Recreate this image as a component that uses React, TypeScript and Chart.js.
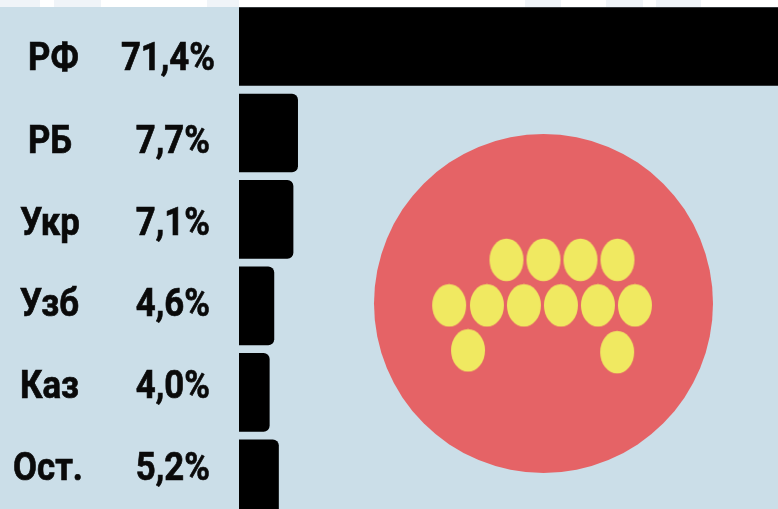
import React, { useEffect, useRef } from "react";
import { Chart, registerables } from "chart.js";

Chart.register(...registerables);

const categories = ["РФ", "РБ", "Укр", "Узб", "Каз", "Ост."];
const shares = [71.4, 7.7, 7.1, 4.6, 4.0, 5.2];
const shareLabels = ["71,4%", "7,7%", "7,1%", "4,6%", "4,0%", "5,2%"];
const labelRowCentres = [60, 143, 225, 306, 388, 470];
const nameCentres = [53.5, 50, 50, 49.5, 49.5, 48];
const coinX = [-1, 0, 1, 2, -2.55, -1.53, -0.53, 0.47, 1.47, 2.47, -2.04, 1.99];
const coinY = [-0.96, -0.96, -0.96, -0.96, 0.04, 0.04, 0.04, 0.04, 0.04, 0.04, 1.03, 1.07];

const W = 800;
const H = 522;
const BAR_X0 = 239;
const PX_PER_PCT = 7.66;
const CX = 543.5;
const CY = 303.5;
const UX = 37;
const UY = 45.5;
const PAD_TOP = 3.3;
const TEXT_SQUEEZE = 0.88;

const stripBands = [[0, 40], [54, 101], [207, 239], [525, 561], [606, 643], [656, 701]];

function makeCoin(): HTMLCanvasElement {
  const c = document.createElement("canvas");
  c.width = 36;
  c.height = 44;
  const g = c.getContext("2d")!;
  g.fillStyle = "#f0e961";
  g.beginPath();
  g.ellipse(18, 22, 17, 21.3, 0, 0, Math.PI * 2);
  g.fill();
  return c;
}

const textPlugin = {
  id: "rowText",
  afterDraw(chart: any) {
    const g = chart.ctx;
    g.save();
    g.fillStyle = "#0a0a0a";
    g.strokeStyle = "#0a0a0a";
    g.lineWidth = 0.7;
    g.font = 'bold 39.5px Roboto, sans-serif';
    g.textBaseline = "middle";
    g.scale(TEXT_SQUEEZE, 1);
    categories.forEach((name, i) => {
      const y = labelRowCentres[i];
      g.textAlign = "center";
      g.fillText(name, nameCentres[i] / TEXT_SQUEEZE, y);
      g.strokeText(name, nameCentres[i] / TEXT_SQUEEZE, y);
      g.textAlign = "right";
      const x = (i === 0 ? 215 : 210) / TEXT_SQUEEZE;
      g.fillText(shareLabels[i], x, y);
      g.strokeText(shareLabels[i], x, y);
    });
    g.restore();
  },
};

export default function App() {
  const ref = useRef<HTMLCanvasElement>(null);
  useEffect(() => {
    document.body.style.margin = "0";
    const chart = new Chart(ref.current!, {
      type: "bar",
      data: {
        labels: categories,
        datasets: [
          {
            type: "scatter",
            data: coinX.map((x, i) => ({ x, y: coinY[i] })),
            xAxisID: "xc",
            yAxisID: "yc",
            pointStyle: makeCoin(),
            order: 0,
          } as any,
          {
            type: "scatter",
            data: [{ x: 0, y: 0 }],
            xAxisID: "xc",
            yAxisID: "yc",
            pointRadius: 169.5,
            pointBackgroundColor: "#e56366",
            pointBorderWidth: 0,
            order: 1,
          } as any,
          {
            type: "bar",
            data: shares,
            xAxisID: "x",
            yAxisID: "y",
            backgroundColor: "#000000",
            borderRadius: 6,
            grouped: false,
            barPercentage: 1,
            categoryPercentage: 0.91,
            order: 2,
          } as any,
        ],
      },
      options: {
        indexAxis: "y",
        animation: false,
        responsive: false,
        layout: { autoPadding: false, padding: { top: PAD_TOP, left: 0, right: 0, bottom: 0 } },
        plugins: { legend: { display: false }, tooltip: { enabled: false } },
        scales: {
          x: { display: false, min: -BAR_X0 / PX_PER_PCT, max: (W - BAR_X0) / PX_PER_PCT },
          y: { display: false, type: "category", offset: true },
          xc: { display: false, type: "linear", bounds: "data", offset: false, min: -CX / UX, max: (W - CX) / UX },
          yc: { display: false, type: "linear", bounds: "data", offset: false, min: -(CY - PAD_TOP) / UY, max: (H - CY) / UY, reverse: true },
        },
      } as any,
      plugins: [textPlugin],
    });
    return () => chart.destroy();
  }, []);
  return (
    <div
      style={{
        position: "relative",
        width: 778,
        height: 509,
        overflow: "hidden",
        background: "linear-gradient(#fff 0 7px, #cbdee8 7px)",
      }}
    >
      {stripBands.map(([a, b]) => (
        <div key={a} style={{ position: "absolute", left: a, top: 0, width: b - a, height: 7, background: "#f0f4f8" }} />
      ))}
      <canvas
        ref={ref}
        width={W}
        height={H}
        style={{ position: "absolute", left: 0, top: 0, display: "block", width: W, height: H }}
      />
    </div>
  );
}
